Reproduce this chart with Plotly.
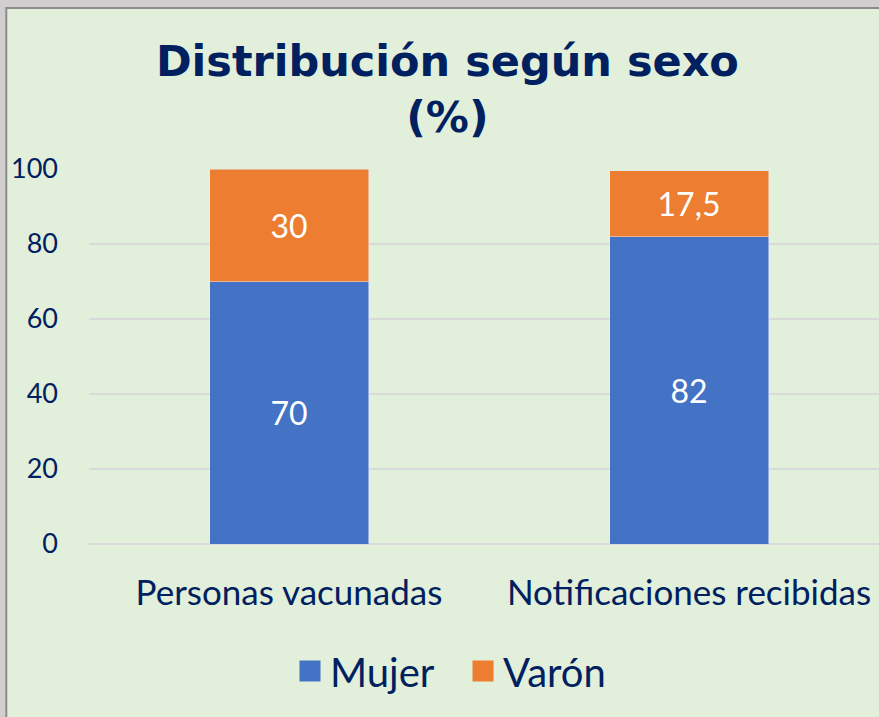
import plotly.graph_objects as go

categories = ["Personas vacunadas", "Notificaciones recibidas"]
mujer = [70, 82]
varon = [30, 17.5]
mujer_labels = ["70", "82"]
varon_labels = ["30", "17,5"]
y_ticks = [0, 20, 40, 60, 80, 100]

W, H = 879, 717
L, R, T, B = 89, 0, 169, 173
pw, ph = W - L - R, H - T - B

def px(x):
    return (x - L) / pw

def py(y):
    return (H - B - y) / ph

NAVY = "#002060"
BLUE = "#4472C4"
ORANGE = "#ED7D31"
GREEN = "#E2EFDA"

fig = go.Figure()
fig.add_trace(go.Bar(x=categories, y=mujer, name="Mujer", marker_color=BLUE,
                     text=mujer_labels, textposition="inside", insidetextanchor="middle",
                     textfont=dict(color="white", size=32, family="Lato"),
                     width=0.3975, showlegend=False))
fig.add_trace(go.Bar(x=categories, y=varon, name="Varón", marker_color=ORANGE,
                     text=varon_labels, textposition="inside", insidetextanchor="middle",
                     textfont=dict(color="white", size=32, family="Lato"),
                     width=0.3975, showlegend=False))
for nm, col in [("Mujer", BLUE), ("Varón", ORANGE)]:
    fig.add_trace(go.Scatter(x=[None], y=[None], mode="markers", name=nm,
                             marker=dict(symbol="square", size=16, color=col,
                                         line=dict(color=col, width=5))))

fig.add_shape(type="rect", xref="paper", yref="paper", layer="below",
              x0=px(6.3), x1=px(900), y0=py(8), y1=py(740),
              fillcolor=GREEN, line=dict(color="#8C8C8C", width=2))

fig.update_layout(
    width=W, height=H,
    margin=dict(l=L, r=R, t=T, b=B, pad=0),
    paper_bgcolor="#D0CECE",
    plot_bgcolor="rgba(0,0,0,0)",
    barmode="stack",
    title=dict(text="Distribución según sexo<br>(%)", x=0.509, xanchor="center",
               y=1 - 76 / H, yanchor="middle",
               font=dict(family="DejaVu Sans", size=43, color=NAVY, weight="bold")),
    xaxis=dict(range=[-0.5, 1.475], showgrid=False, showline=False, zeroline=False,
               ticks="", ticklabelstandoff=25,
               tickfont=dict(family="Lato", size=35, color=NAVY)),
    yaxis=dict(range=[0, 100], tickvals=y_ticks, showgrid=True, gridcolor="#D9D9D9",
               gridwidth=2, zeroline=True, zerolinecolor="#D9D9D9", zerolinewidth=2,
               showline=False, ticks="", ticklabelstandoff=30,
               tickfont=dict(family="Lato", size=27, color=NAVY)),
    legend=dict(orientation="h", x=px(290), xanchor="left", y=py(671), yanchor="middle",
                traceorder="normal", entrywidth=128, entrywidthmode="pixels",
                font=dict(family="Lato", size=40, color=NAVY), itemwidth=30,
                bgcolor="rgba(0,0,0,0)"),
)

fig.write_html("out.html")
